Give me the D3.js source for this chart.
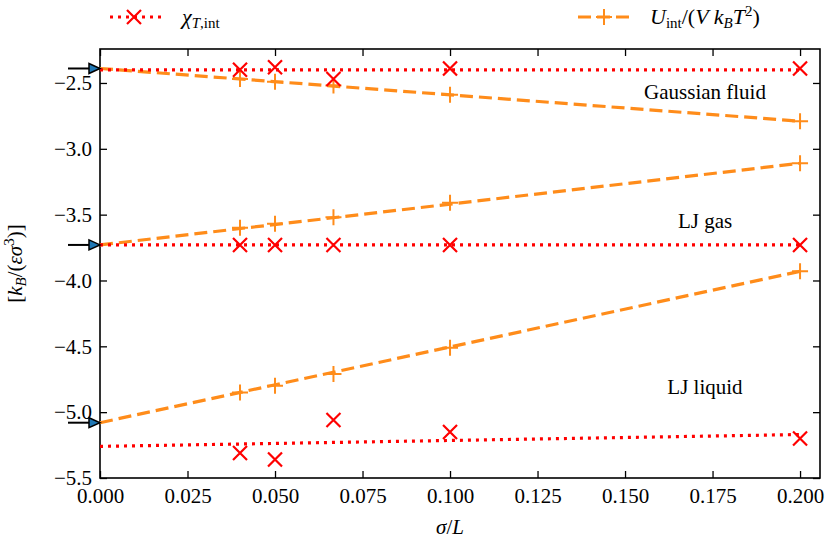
<!DOCTYPE html>
<html><head><meta charset="utf-8">
<script src="https://cdn.jsdelivr.net/npm/d3@7"></script>
<style>body{margin:0;background:#fff}text{font-family:"Liberation Serif","DejaVu Serif",serif}</style>
</head><body><svg id="c" width="830" height="547"></svg>
<script>
const xs = [0.04, 0.05, 0.0667, 0.1, 0.2];
const gaussChi = [-2.40, -2.38, -2.47, -2.39, -2.39];
const gaussU = [-2.47, -2.49, -2.52, -2.59, -2.79];
const gasChi = [-3.73, -3.73, -3.73, -3.73, -3.73];
const gasU = [-3.60, -3.57, -3.52, -3.41, -3.11];
const liqChi = [-5.31, -5.36, -5.06, -5.15, -5.20];
const liqU = [-4.85, -4.80, -4.71, -4.51, -3.93];
// fit lines: [value at 0, value at 0.2]
const fitChi = [[-2.40, -2.40], [-3.73, -3.73], [-5.26, -5.17]];
const fitU = [[-2.39, -2.79], [-3.73, -3.11], [-5.08, -3.93]];
const arrows = [-2.39, -3.73, -5.08];
const xTicks = [0, 0.025, 0.05, 0.075, 0.1, 0.125, 0.15, 0.175, 0.2];
const yTicks = [-2.5, -3.0, -3.5, -4.0, -4.5, -5.0, -5.5];
const labels = [["Gaussian fluid", -2.62], ["LJ gas", -3.60], ["LJ liquid", -4.86]];

const svg = d3.select("#c");
const L = 100, R = 820, T = 49, B = 478;
const x = d3.scaleLinear().domain([0, 0.2057]).range([L, R]);
const y = d3.scaleLinear().domain([-5.5, -2.242]).range([B, T]);
const red = "#ff0000", orange = "#ff8c1a";

svg.append("g").attr("transform", `translate(0,${B})`)
  .call(d3.axisBottom(x).tickValues(xTicks).tickFormat(d3.format(".3f")).tickSizeInner(-7).tickSizeOuter(0).tickPadding(10));
svg.append("g").attr("transform", `translate(${L},0)`)
  .call(d3.axisLeft(y).tickValues(yTicks).tickFormat(d => d.toFixed(1).replace("-", "\u2212")).tickSizeInner(-7).tickSizeOuter(0).tickPadding(8));
svg.append("g").attr("transform", `translate(0,${T})`).call(d3.axisTop(x).tickValues(xTicks).tickFormat("").tickSizeInner(-7).tickSizeOuter(0));
svg.append("g").attr("transform", `translate(${R},0)`).call(d3.axisRight(y).tickValues(yTicks).tickFormat("").tickSizeInner(-7).tickSizeOuter(0));
svg.selectAll(".domain").remove();
svg.selectAll(".tick line").attr("stroke", "#000").attr("stroke-width", 1.3);
svg.selectAll(".tick text").attr("font-size", 21).attr("fill", "#000");
svg.append("rect").attr("x", L).attr("y", T).attr("width", R - L).attr("height", B - T)
  .attr("fill", "none").attr("stroke", "#000").attr("stroke-width", 1.6);

const plot = svg.append("g");
fitU.forEach(f => plot.append("line").attr("x1", x(0)).attr("x2", x(0.2)).attr("y1", y(f[0])).attr("y2", y(f[1]))
  .attr("stroke", orange).attr("stroke-width", 3.2).attr("stroke-dasharray", "13,6"));
fitChi.forEach(f => plot.append("line").attr("x1", x(0)).attr("x2", x(0.2)).attr("y1", y(f[0])).attr("y2", y(f[1]))
  .attr("stroke", red).attr("stroke-width", 3.2).attr("stroke-dasharray", "3,5"));

function cross(g, cx, cy) {
  g.append("path").attr("d", `M${cx-7},${cy-7}L${cx+7},${cy+7}M${cx-7},${cy+7}L${cx+7},${cy-7}`).attr("stroke", red).attr("stroke-width", 2.2);
}
function plus(g, cx, cy) {
  g.append("path").attr("d", `M${cx-8},${cy}L${cx+8},${cy}M${cx},${cy-8}L${cx},${cy+8}`).attr("stroke", orange).attr("stroke-width", 2);
}
[gaussU, gasU, liqU].forEach(s => s.forEach((v, i) => plus(plot, x(xs[i]), y(v))));
[gaussChi, gasChi, liqChi].forEach(s => s.forEach((v, i) => cross(plot, x(xs[i]), y(v))));

arrows.forEach(v => {
  const py = y(v);
  svg.append("line").attr("x1", 68).attr("x2", 92).attr("y1", py).attr("y2", py).attr("stroke", "#000").attr("stroke-width", 2);
  svg.append("path").attr("d", `M${L-11},${py-5}L${L},${py}L${L-11},${py+5}Z`).attr("fill", "#1f77b4").attr("stroke", "#000").attr("stroke-width", 1.5);
});

labels.forEach(([t, v]) => svg.append("text").attr("x", 705).attr("y", y(v)).attr("text-anchor", "middle").attr("font-size", 21).text(t));

// legend
const lg = svg.append("g");
lg.append("line").attr("x1", 110).attr("x2", 162).attr("y1", 17).attr("y2", 17).attr("stroke", red).attr("stroke-width", 3.2).attr("stroke-dasharray", "3,5");
cross(lg, 134, 17);
lg.append("text").attr("x", 182).attr("y", 24).attr("font-size", 22).attr("font-style", "italic").html('χ<tspan font-size="15" dy="4">T</tspan><tspan font-size="15" font-style="normal">,int</tspan>');
lg.append("line").attr("x1", 578).attr("x2", 632).attr("y1", 17).attr("y2", 17).attr("stroke", orange).attr("stroke-width", 3.2).attr("stroke-dasharray", "13,6");
plus(lg, 604, 17);
lg.append("text").attr("x", 650).attr("y", 24).attr("font-size", 22).html('<tspan font-style="italic">U</tspan><tspan font-size="15" dy="4">int</tspan><tspan dy="-4">/(</tspan><tspan font-style="italic">V k</tspan><tspan font-size="15" dy="4" font-style="italic">B</tspan><tspan dy="-4" font-style="italic">T</tspan><tspan font-size="15" dy="-8">2</tspan><tspan dy="8">)</tspan>');

svg.append("text").attr("x", x(0.1)).attr("y", 534).attr("text-anchor", "middle").attr("font-size", 21)
  .html('<tspan font-style="italic">σ</tspan>/<tspan font-style="italic">L</tspan>');
svg.append("text").attr("transform", `translate(22,${(T + B) / 2}) rotate(-90)`).attr("text-anchor", "middle").attr("font-size", 21)
  .html('[<tspan font-style="italic">k</tspan><tspan font-size="15" dy="4" font-style="italic">B</tspan><tspan dy="-4">/(</tspan><tspan font-style="italic">εσ</tspan><tspan font-size="15" dy="-8">3</tspan><tspan dy="8">)]</tspan>');
</script></body></html>
